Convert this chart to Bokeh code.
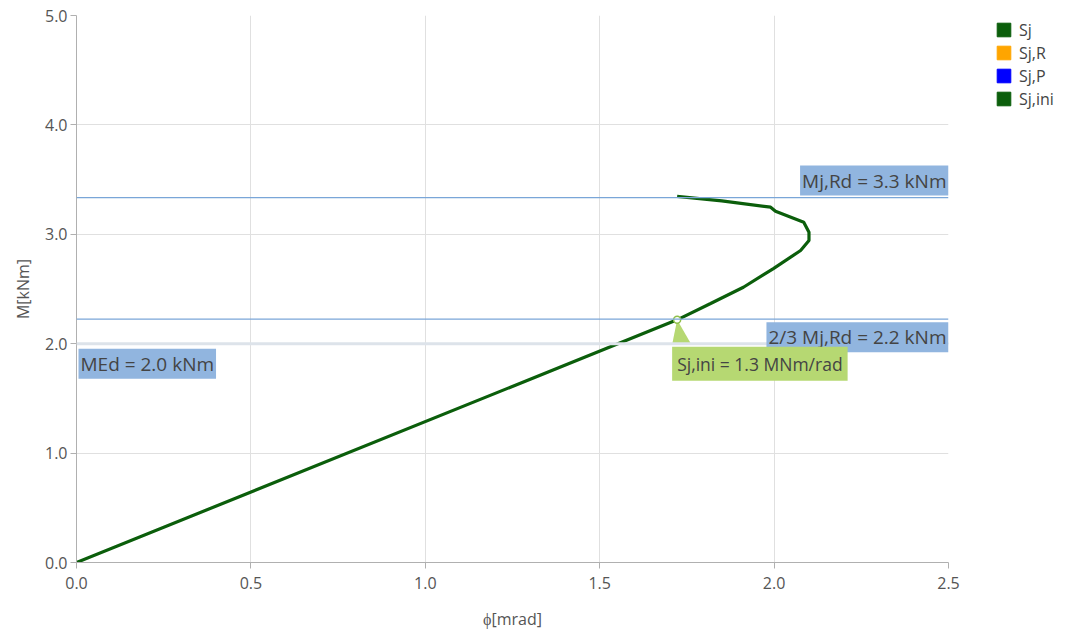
from bokeh.plotting import figure
from bokeh.models import (Range1d, FixedTicker, NumeralTickFormatter, Span, Label,
                          Legend, LegendItem)
from bokeh.embed import file_html
from bokeh.resources import INLINE

# data
phi = [0.0, 1.722, 1.818, 1.912, 1.998, 2.076, 2.100, 2.100, 2.085, 2.004, 1.990, 1.850, 1.722]
M = [0.0, 2.218, 2.367, 2.516, 2.687, 2.852, 2.943, 3.019, 3.111, 3.211, 3.248, 3.305, 3.346]
x_ticks = [0.0, 0.5, 1.0, 1.5, 2.0, 2.5]
y_ticks = [0.0, 1.0, 2.0, 3.0, 4.0, 5.0]
MjRd = 3.336
MjRd23 = 2.224
MEd = 2.0
sj_ini_phi = 1.722
sj_ini_M = 2.218
legend_labels = ["Sj", "Sj,R", "Sj,P", "Sj,ini"]
legend_colors = ["#0b5e0b", "#ffa500", "#0000ff", "#0b5e0b"]

FONT = "Open Sans"

p = figure(frame_width=872, frame_height=547, output_backend="svg", toolbar_location=None,
           x_range=Range1d(0, 2.5), y_range=Range1d(0, 5.0),
           min_border_left=76, min_border_right=108, min_border_top=15,
           min_border_bottom=57)
p.outline_line_color = None

for ax in (p.xaxis[0], p.yaxis[0]):
    ax.axis_line_color = "#b0b0b0"
    ax.major_tick_line_color = "#b0b0b0"
    ax.major_tick_out = 6
    ax.major_tick_in = 0
    ax.minor_tick_line_color = None
    ax.major_label_text_font = FONT
    ax.major_label_text_font_size = "16px"
    ax.major_label_text_color = "#555555"
    ax.axis_label_text_font = FONT
    ax.axis_label_text_font_size = "16px"
    ax.axis_label_text_font_style = "normal"
    ax.axis_label_text_color = "#555555"
    ax.formatter = NumeralTickFormatter(format="0.0")

p.xaxis[0].ticker = FixedTicker(ticks=x_ticks)
p.yaxis[0].ticker = FixedTicker(ticks=y_ticks)
p.xaxis.axis_label = "ϕ[mrad]"
p.yaxis.axis_label = "M[kNm]"
p.xaxis.major_label_standoff = 8
p.xaxis.axis_label_standoff = 16
p.yaxis.major_label_standoff = 3
p.yaxis.axis_label_standoff = 8

p.grid.grid_line_color = "#e0e0e0"
p.grid.grid_line_width = 1

# reference lines
p.add_layout(Span(location=MEd, dimension="width", line_color="#dde3ea", line_width=3))
p.add_layout(Span(location=MjRd, dimension="width", line_color="#7aa6d8", line_width=1.2))
p.add_layout(Span(location=MjRd23, dimension="width", line_color="#7aa6d8", line_width=1.2))

box_blue = "#91b5df"
LBL = "19px"
p.add_layout(Label(x=2.5, y=MjRd, text="Mj,Rd = 3.3 kNm", text_align="right",
                   text_baseline="bottom", y_offset=2, text_font=FONT,
                   text_font_size=LBL, text_color="#444444",
                   background_fill_color=box_blue, padding=2))
p.add_layout(Label(x=2.5, y=MjRd23, text="2/3 Mj,Rd = 2.2 kNm", text_align="right",
                   text_baseline="top", y_offset=-3, text_font=FONT,
                   text_font_size=LBL, text_color="#444444",
                   background_fill_color=box_blue, padding=2))
p.add_layout(Label(x=0, y=MEd, text="MEd = 2.0 kNm", text_align="left",
                   text_baseline="top", y_offset=-5, x_offset=2, text_font=FONT,
                   text_font_size=LBL, text_color="#444444",
                   background_fill_color=box_blue, padding=2))

# curve
p.line(phi, M, line_color="#0b5e0b", line_width=3.2)

# Sj,ini callout
green_box = "#b6d872"
p.patch([sj_ini_phi, sj_ini_phi - 0.014, sj_ini_phi + 0.04],
        [sj_ini_M, sj_ini_M - 0.22, sj_ini_M - 0.22],
        fill_color=green_box, line_color=None)
p.add_layout(Label(x=sj_ini_phi, y=sj_ini_M, text="Sj,ini = 1.3 MNm/rad",
                   text_align="left", text_baseline="top", x_offset=-5, y_offset=-27,
                   text_font=FONT, text_font_size="17.5px", text_color="#444444",
                   background_fill_color=green_box, padding=5))
p.scatter([sj_ini_phi], [sj_ini_M], size=7, marker="circle", fill_color="white",
          line_color="#8fc04a", line_width=1.5)

# legend
nan = float("nan")
items = []
for lab, col in zip(legend_labels, legend_colors):
    r = p.quad(left=[nan], right=[nan], top=[nan], bottom=[nan],
               fill_color=col, line_color=col)
    items.append(LegendItem(label=lab, renderers=[r]))
legend = Legend(items=items, location=(47, 452), orientation="vertical",
                border_line_color=None, background_fill_alpha=0,
                label_text_font=FONT, label_text_font_size="16px",
                label_text_color="#444444", glyph_width=17, glyph_height=17,
                spacing=0, padding=0, margin=0, label_standoff=7, label_height=23)
p.add_layout(legend, "right")

open("out.html", "w").write(file_html(p, INLINE))
